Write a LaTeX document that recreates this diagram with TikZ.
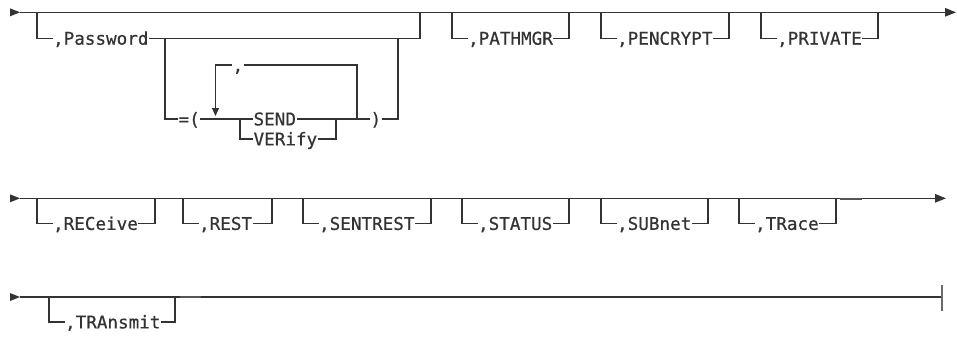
\documentclass[tikz,border=0pt]{standalone}
\usepackage{fontspec}
\newfontfamily\kwfont[FakeBold=0.6]{DejaVu Sans Mono}
\usetikzlibrary{arrows.meta}
\definecolor{ink}{HTML}{333333}
\definecolor{barink}{HTML}{6A6A6A}
\definecolor{seamink}{HTML}{555555}
\newcommand\optitem[6]{% name, left x, right x, main y, branch y, text
  \node[kw] (#1) at (#2+15.5,#5) {#6};
  \draw (#2,#4) |- (#1.west);
  \draw (#1.east) -| (#3,#4);
}
\begin{document}
\begin{tikzpicture}[x=1pt,y=-1pt,line width=1.2pt,draw=ink,
  kw/.style={font=\kwfont\fontsize{17.6}{20}\selectfont,text=ink,inner sep=0pt,
    text height=12.8pt,text depth=0pt,anchor=west},
  endarrow/.style={-{Triangle[length=11pt,width=8.5pt]}},
  looparrow/.style={-{Triangle[length=8pt,width=7pt]}},
  seam/.style={draw=seamink,line width=2pt}]
\useasboundingbox (0,0) rectangle (957,338);

% ---------------- line 1 ----------------
\fill[ink] (10,8.3) -- (20,12.3) -- (10,16.3) -- cycle;
\coordinate (a1) at (20,12.3);
\coordinate (e1) at (956,12.3);
\draw[endarrow] (a1) -- (e1);

% ,Password
\node[kw] (pw) at (52.5,38.3) {,Password};
\coordinate (pwL) at (37,12.3);
\coordinate (pwR) at (420,12.3);
\draw (pwL) |- (pw.west);
\draw (pw.east) -| (pwR);

% =( SEND | VERify ... )
\coordinate (eqL) at (165,38.3);
\node[kw] (eq) at (178,119) {=(};
\draw (eqL) |- (eq.west);
\node[kw] (send) at (253,119) {SEND};
\node[kw] (ver) at (253,139) {VERify};
\node[kw] (rp) at (370,119) {)};
\coordinate (sf) at (240,119);
\coordinate (sj) at (336,119);
\coordinate (lr) at (357,119);
\coordinate (la) at (215.5,116);
\coordinate (rpR) at (398,38.3);
\draw (eq.east) -- (send.west);
\draw (send.east) -- (rp.west);
\draw (rp.east) -| (rpR);
\draw (sf) |- (ver.west);
\draw (ver.east) -| (sj);
% repeat loop with comma
\node[kw] (cm) at (232,65) {,};
\draw (lr) |- (cm.east);
\draw[looparrow] (cm.west) -| (la);

\optitem{pathmgr}{452}{569}{12.3}{38.3}{,PATHMGR}
\optitem{pencrypt}{601}{729}{12.3}{38.3}{,PENCRYPT}
\optitem{private}{761}{878}{12.3}{38.3}{,PRIVATE}

% ---------------- line 2 ----------------
\fill[ink] (10,194.3) -- (20,198.3) -- (10,202.3) -- cycle;
\coordinate (a2) at (20,198.3);
\coordinate (e2) at (946,198.3);
\draw[endarrow] (a2) -- (e2);
\optitem{receive}{37}{155}{198.3}{223.5}{,RECeive}
\optitem{rest}{183}{272}{198.3}{223.5}{,REST}
\optitem{sentrest}{303}{431}{198.3}{223.5}{,SENTREST}
\optitem{status}{462}{569}{198.3}{223.5}{,STATUS}
\optitem{subnet}{601}{708}{198.3}{223.5}{,SUBnet}
\optitem{trace}{739}{836}{198.3}{223.5}{,TRace}
\coordinate (t2a) at (840,198.5);
\coordinate (t2b) at (862,198.5);
\draw[seam] (t2a) -- (t2b);

% ---------------- line 3 ----------------
\fill[ink] (10,293) -- (20,297) -- (10,301) -- cycle;
\coordinate (a3) at (20,297);
\coordinate (e3) at (942,297);
\draw (a3) -- (e3);
\draw[barink,line width=1.6pt] (942,285) -- (942,311);
\optitem{transmit}{49}{175}{297}{322}{,TRAnsmit}
\coordinate (t3a) at (180,297.3);
\coordinate (t3b) at (201,297.3);
\draw[seam] (t3a) -- (t3b);
\end{tikzpicture}
\end{document}
